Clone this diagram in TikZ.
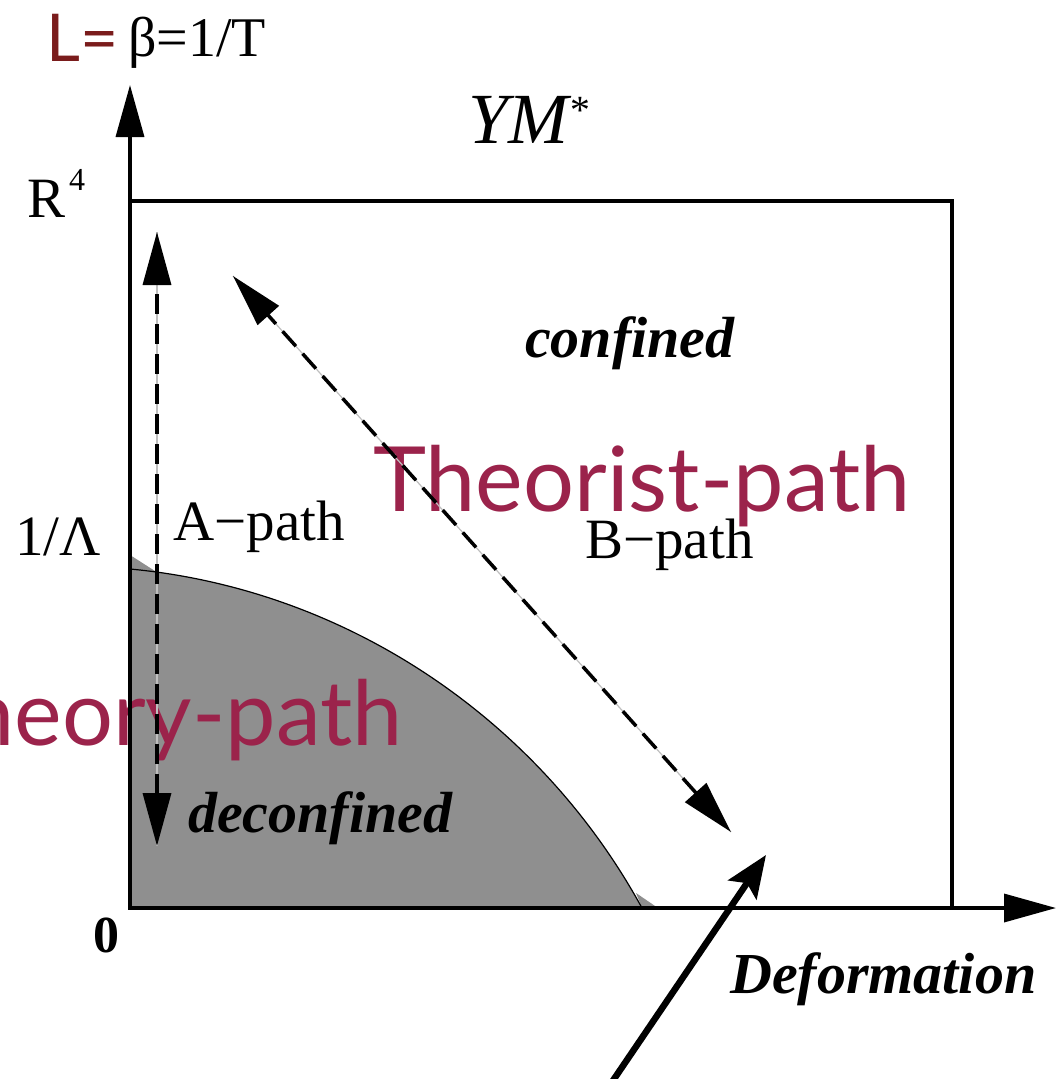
\documentclass[tikz,border=0pt]{standalone}
\usepackage{fontspec}
\setmainfont{Liberation Serif}
\newfontfamily\gillfont{Lato}
\usetikzlibrary{arrows.meta}
\definecolor{regiongray}{HTML}{8F8F8F}
\definecolor{theorist}{HTML}{9B234B}
\definecolor{ldark}{HTML}{7A1C1C}
\begin{document}
\begin{tikzpicture}[x=1pt,y=-1pt,
  lbl/.style={inner sep=0pt, anchor=base west},
  axisline/.style={line width=3.5pt, line cap=rect},
  axtip/.style={-{Triangle[length=52pt,width=28pt]}},
  dashpath/.style={line width=3.5pt, dash pattern=on 20pt off 10pt, {Triangle[length=53pt,width=28pt]}-{Triangle[length=53pt,width=28pt]}},
  guide/.style={line width=1.2pt, black!25},
  pinktext/.style={inner sep=0pt, text=theorist, font=\gillfont\fontsize{90}{90}\selectfont},
  serif57/.style={lbl, font=\fontsize{57}{57}\selectfont},
  bi58/.style={lbl, font=\bfseries\itshape\fontsize{58}{58}\selectfont}
]
\useasboundingbox (0,0) rectangle (1058,1079);
\clip (0,0) rectangle (1058,1079);

% key points
\coordinate (O) at (130,908);
\coordinate (Ytip) at (130,85);
\coordinate (Xtip) at (1056,908);
\coordinate (BoxTL) at (130,201);
\coordinate (BoxTR) at (952,201);
\coordinate (BoxBR) at (952,908);
\coordinate (Cstart) at (130,569);
\coordinate (Cend) at (642,908);
\coordinate (Atop) at (157,232);
\coordinate (Abot) at (157,846);
\coordinate (Btop) at (233,276);
\coordinate (Bbot) at (731,832);
\coordinate (Pstart) at (612,1082);
\coordinate (Ptip) at (766,855);

% deconfined region
\fill[regiongray] (O) -- (Cstart) .. controls (345,589) and (538,718) .. (Cend) -- cycle;
\fill[regiongray] (130,555) -- (155,571) -- (130,570) -- cycle;
\fill[regiongray] (636,893) -- (658,908) -- (642,908) -- cycle;
\draw[line width=1.2pt] (Cstart) .. controls (345,589) and (538,718) .. (Cend);

% texts under the lines
\node[serif57] (bpath) at (585,558) {B−path};
\node[pinktext, anchor=base west] (theorist) at (373,511) {Theorist-path};
\node[pinktext, anchor=base east] (theory) at (403,745) {Theory-path};

% box and axes
\draw[axisline, line join=miter, line cap=butt] (BoxTL) -- (BoxTR) -- (BoxBR);
\draw[axisline, axtip] (O) -- (Ytip);
\draw[axisline, axtip] (O) -- (Xtip);

% paths
\draw[guide] (Atop) -- (Abot);
\draw[dashpath] (Abot) -- (Atop);
\draw[guide] (Btop) -- (Bbot);
\draw[dashpath] (Bbot) -- (Btop);

% labels
\node[lbl, text=ldark, font=\gillfont\fontsize{66}{66}\selectfont] (Lbl) at (46,61) {L=};
\node[lbl, font=\fontsize{56}{56}\selectfont] (beta) at (128,56) {β=1/T};
\node[lbl, font=\itshape\fontsize{72}{72}\selectfont] (ym) at (468,143) {YM\raisebox{20pt}{\fontsize{40}{40}\selectfont *}};
\node[serif57] (R4) at (27,217) {R\hspace{4pt}\raisebox{27pt}{\fontsize{32}{32}\selectfont 4}};
\node[serif57] (lam) at (15,555) {1/Λ};
\node[lbl, font=\bfseries\fontsize{52}{52}\selectfont] (zero) at (93,952) {0};
\node[serif57] (apath) at (173,540) {A−path};
\node[bi58] (conf) at (525,357) {confined};
\node[bi58] (deconf) at (188,832) {deconfined};
\node[bi58] (deform) at (730,993) {Deformation};

% pointer arrow
\draw[line width=6.5pt, -{Stealth[length=42pt,width=34pt,inset=8pt]}] (Pstart) -- (Ptip);
\end{tikzpicture}
\end{document}
